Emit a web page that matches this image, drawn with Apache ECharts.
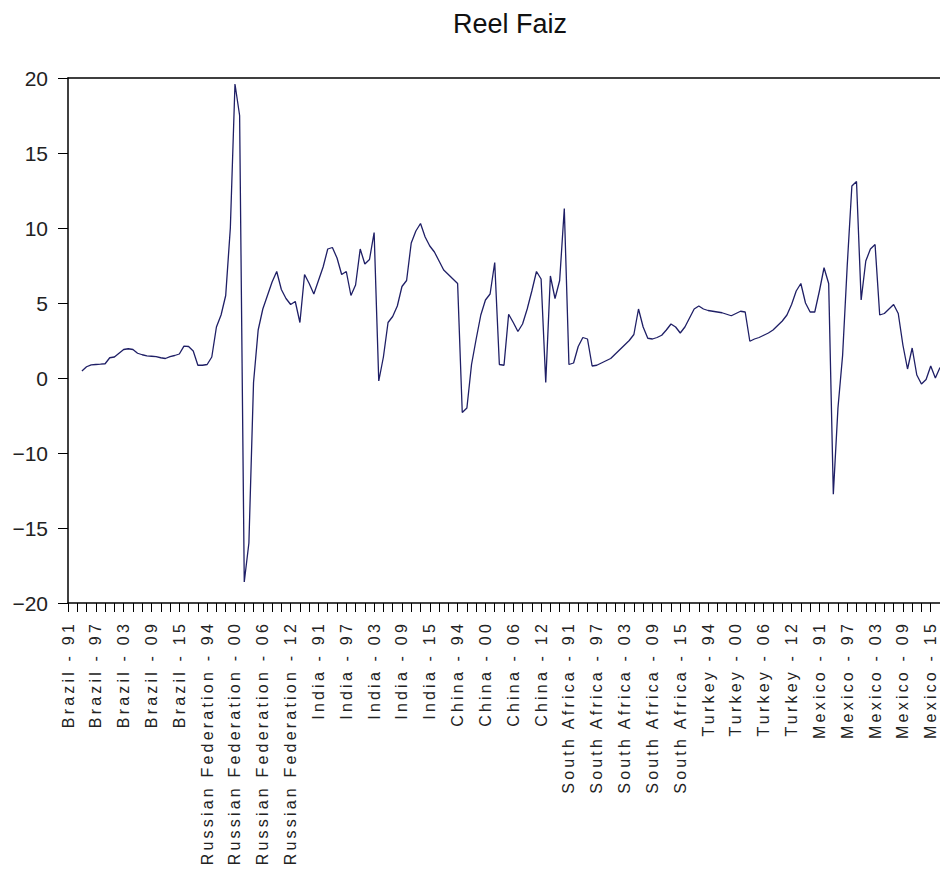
<!DOCTYPE html>
<html>
<head>
<meta charset="utf-8">
<script src="https://cdn.jsdelivr.net/npm/echarts@6/dist/echarts.min.js"></script>
<style>
html, body { margin: 0; padding: 0; background: #fff; }
#chart { width: 940px; height: 885px; }
#chart text[style*="Helvetica"], #chart text[font-family*="Helvetica"] { letter-spacing: 3.2px; }
</style>
</head>
<body>
<div id="chart"></div>
<script>
// ---- data ----
const countries = ['Brazil', 'Russian Federation', 'India', 'China', 'South Africa', 'Turkey', 'Mexico'];
const years = [1991, 1992, 1993, 1994, 1995, 1996, 1997, 1998, 1999, 2000, 2001, 2002, 2003, 2004,
               2005, 2006, 2007, 2008, 2009, 2010, 2011, 2012, 2013, 2014, 2015, 2016, 2017];

const brazil      = [null, null, null, 0.47, 0.75, 0.88, 0.9, 0.92, 0.95, 1.35, 1.4, 1.65, 1.9, 1.95, 1.9, 1.65, 1.55, 1.47, 1.45, 1.42, 1.35, 1.3, 1.42, 1.5, 1.6, 2.13, 2.1];
const russia      = [1.8, 0.85, 0.85, 0.9, 1.4, 3.4, 4.2, 5.5, 10.0, 19.6, 17.5, -13.6, -11.0, -0.3, 3.2, 4.6, 5.5, 6.4, 7.1, 5.9, 5.3, 4.9, 5.1, 3.7, 6.9, 6.3, 5.6];
const india       = [6.5, 7.4, 8.6, 8.7, 8.0, 6.9, 7.1, 5.5, 6.2, 8.6, 7.6, 7.9, 9.7, -0.2, 1.4, 3.7, 4.1, 4.8, 6.1, 6.5, 9.0, 9.8, 10.3, 9.4, 8.8, 8.4, 7.8];
const china       = [7.2, 6.9, 6.6, 6.3, -2.3, -2.0, 0.9, 2.6, 4.2, 5.2, 5.6, 7.7, 0.9, 0.85, 4.25, 3.7, 3.1, 3.6, 4.6, 5.8, 7.1, 6.6, -0.3, 6.8, 5.3, 6.5, 11.3];
const southAfrica = [0.9, 1.0, 2.1, 2.7, 2.6, 0.8, 0.85, 1.0, 1.15, 1.3, 1.6, 1.9, 2.2, 2.5, 2.9, 4.6, 3.4, 2.65, 2.6, 2.7, 2.85, 3.2, 3.6, 3.4, 3.0, 3.4, 4.0];
const turkey      = [4.6, 4.8, 4.6, 4.5, 4.45, 4.4, 4.35, 4.25, 4.15, 4.3, 4.45, 4.4, 2.45, 2.6, 2.7, 2.85, 3.0, 3.2, 3.5, 3.8, 4.2, 4.9, 5.8, 6.3, 5.0, 4.4, 4.4];
const mexico      = [5.8, 7.35, 6.3, -7.75, -2.0, 1.5, 7.5, 12.8, 13.1, 5.2, 7.8, 8.6, 8.9, 4.2, 4.3, 4.6, 4.9, 4.3, 2.2, 0.6, 2.0, 0.2, -0.4, -0.1, 0.8, 0.0, 0.7];

const yTickValues = [-15, -10, -5, 0, 5, 10, 15, 20];
const yTickLabels = ['\u221220', '\u221215', '\u221210', '0', '5', '10', '15', '20'];

// ---- build ----
const categories = [];
countries.forEach(c => years.forEach(y => categories.push(c + ' - ' + String(y).slice(2))));
const values = [].concat(brazil, russia, india, china, southAfrica, turkey, mexico);

const chart = echarts.init(document.getElementById('chart'), null, { renderer: 'svg', width: 940, height: 885 });
chart.setOption({
  animation: false,
  backgroundColor: '#ffffff',
  title: {
    text: 'Reel Faiz',
    left: 505,
    textAlign: 'center',
    top: 5,
    textStyle: { fontFamily: 'Liberation Sans, Arial', fontSize: 27, fontWeight: 'normal', color: '#111' }
  },
  grid: { left: 68, top: 78, right: 0, bottom: 282 },
  xAxis: [{
    type: 'category',
    boundaryGap: false,
    data: categories,
    axisLine: { onZero: false, lineStyle: { color: '#000', width: 1.5 } },
    axisTick: { interval: 1, length: 9, lineStyle: { color: '#000', width: 1 } },
    axisLabel: {
      interval: 5, rotate: 90, margin: 18, fontSize: 16,
      fontFamily: 'Liberation Sans, Helvetica', color: '#222'
    },
    splitLine: { show: false }
  }, {
    type: 'category',
    position: 'top',
    boundaryGap: false,
    data: categories,
    axisLine: { onZero: false, lineStyle: { color: '#000', width: 1.5 } },
    axisTick: { show: false },
    axisLabel: { show: false },
    splitLine: { show: false }
  }],
  yAxis: {
    type: 'value',
    min: -15, max: 20, interval: 5,
    axisLine: { show: true, onZero: false, lineStyle: { color: '#000', width: 1.5 } },
    axisTick: { show: true, length: 10, lineStyle: { color: '#000', width: 1 } },
    axisLabel: {
      margin: 20, fontSize: 21, fontFamily: 'Liberation Sans, Arial', color: '#222',
      formatter: v => yTickLabels[yTickValues.indexOf(v)]
    },
    splitLine: { show: false }
  },
  series: [{
    type: 'line',
    xAxisIndex: 0,
    data: values,
    showSymbol: false,
    lineStyle: { color: '#1f1f66', width: 1.3 }
  }]
});
</script>
</body>
</html>
